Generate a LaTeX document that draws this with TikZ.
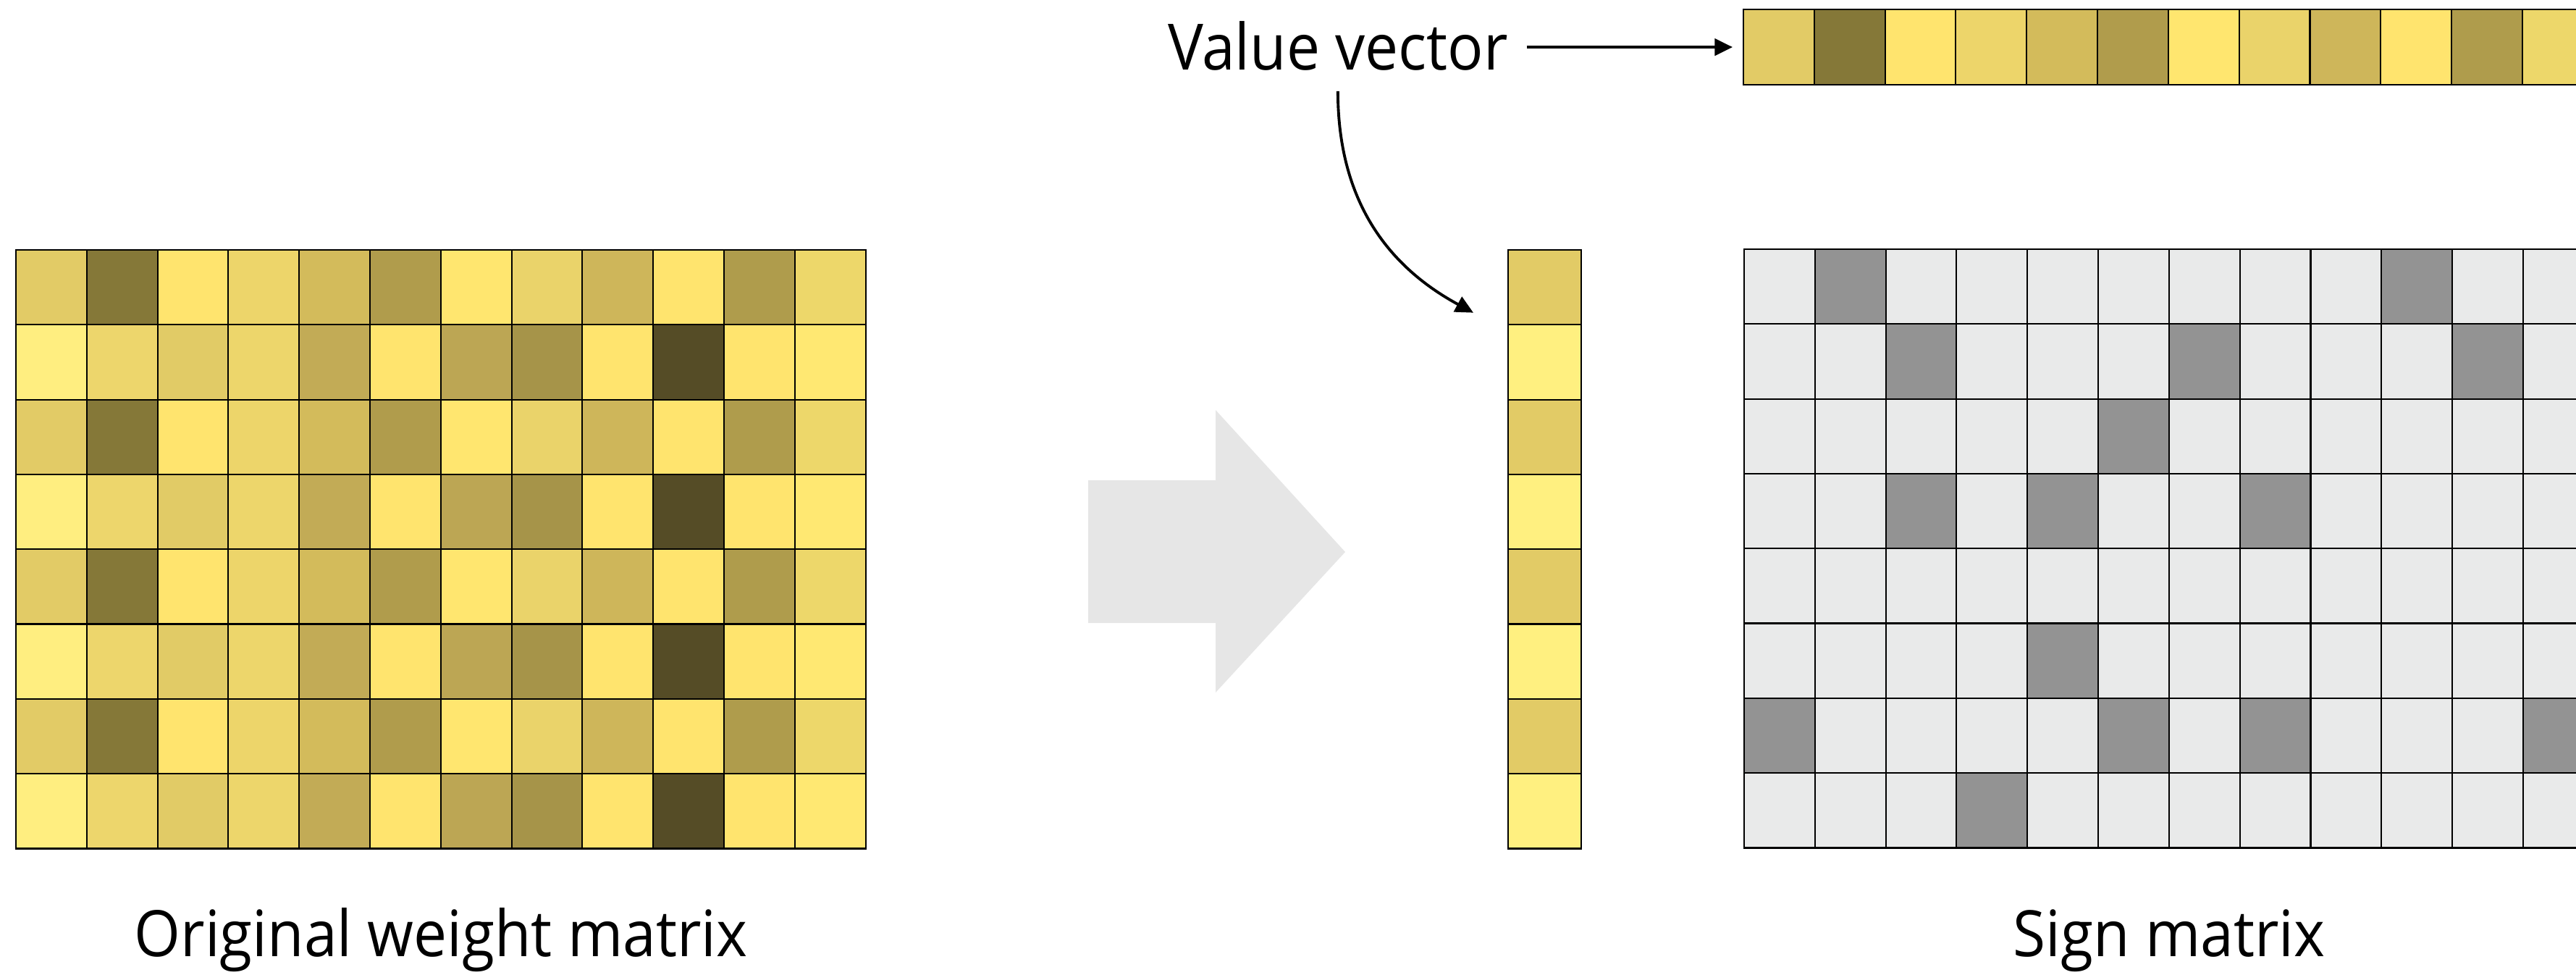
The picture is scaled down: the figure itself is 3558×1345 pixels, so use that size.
\documentclass[tikz,border=0pt]{standalone}
\usepackage{fontspec}
\setmainfont{Open Sans}[FakeStretch=0.93]
\usetikzlibrary{arrows.meta,calc}
% row type A (odd rows) and B (even rows) colours
\definecolor{a1}{HTML}{E2CB66}\definecolor{a2}{HTML}{857838}\definecolor{a3}{HTML}{FFE46E}
\definecolor{a4}{HTML}{EDD56A}\definecolor{a5}{HTML}{D3BB5B}\definecolor{a6}{HTML}{B09C4C}
\definecolor{a7}{HTML}{FFE66F}\definecolor{a8}{HTML}{EAD36A}\definecolor{a9}{HTML}{CEB65A}
\definecolor{a10}{HTML}{FFE46E}\definecolor{a11}{HTML}{AF9C4C}\definecolor{a12}{HTML}{EDD76A}
\definecolor{b1}{HTML}{FFEE80}\definecolor{b2}{HTML}{EDD66C}\definecolor{b3}{HTML}{E1CB66}
\definecolor{b4}{HTML}{EDD66B}\definecolor{b5}{HTML}{C2AB56}\definecolor{b6}{HTML}{FFE46E}
\definecolor{b7}{HTML}{BCA654}\definecolor{b8}{HTML}{A69449}\definecolor{b9}{HTML}{FFE46E}
\definecolor{b10}{HTML}{554C26}\definecolor{b11}{HTML}{FFE46E}\definecolor{b12}{HTML}{FFE872}
\definecolor{colA}{HTML}{E2CB66}\definecolor{colB}{HTML}{FFF080}
\definecolor{sglight}{HTML}{E9EAEA}\definecolor{sgdark}{HTML}{939393}
\definecolor{bigarrow}{HTML}{E6E6E6}
\def\darkpattern{{0,1,0,0,0,0,0,0,0,1,0,0,
0,0,1,0,0,0,1,0,0,0,1,0,
0,0,0,0,0,1,0,0,0,0,0,0,
0,0,1,0,1,0,0,1,0,0,0,0,
0,0,0,0,0,0,0,0,0,0,0,0,
0,0,0,0,1,0,0,0,0,0,0,0,
1,0,0,0,0,1,0,1,0,0,0,1,
0,0,0,1,0,0,0,0,0,0,0,0}}
\tikzset{
  cell/.style={draw=black, line width=0.6pt, minimum width=0.978cm, minimum height=1.033cm,
    inner sep=0pt, outer sep=0pt, anchor=north west},
  lbl/.style={inner sep=0pt, outer sep=0pt, font=\fontsize{25.1pt}{30pt}\selectfont},
  arr/.style={line width=1.1pt, -{Triangle[length=7pt,width=6.6pt]}}
}
\begin{document}
\begin{tikzpicture}[x=0.01cm,y=-0.01cm]
\useasboundingbox (0,0) rectangle (3558,1345);
\clip (0,0) rectangle (3558,1345);
% original weight matrix
\foreach \r in {1,...,8}{
  \foreach \c in {1,...,12}{
    \ifodd\r\relax\def\wc{a\c}\else\def\wc{b\c}\fi
    \node[cell, fill=\wc] (W-\r-\c) at ({22+(\c-1)*97.8},{345+(\r-1)*103.3}) {};
  }
}
% big grey arrow
\fill[bigarrow] (1503,663) -- (1679,663) -- (1679,566) -- (1858,762) -- (1679,956) -- (1679,860) -- (1503,860) -- cycle;
% value column
\foreach \r in {1,...,8}{
  \ifodd\r\relax\def\vc{colA}\else\def\vc{colB}\fi
  \node[cell, minimum width=1.01cm, fill=\vc] (V-\r) at (2083,{345+(\r-1)*103.3}) {};
}
% top value vector
\foreach \c in {1,...,12}{
  \node[cell, minimum height=1.04cm, fill=a\c] (T-\c) at ({2408+(\c-1)*97.8},13) {};
}
% sign matrix
\foreach \r in {1,...,8}{
  \foreach \c in {1,...,12}{
    \pgfmathtruncatemacro\isdark{\darkpattern[(\r-1)*12+\c-1]}
    \ifnum\isdark=1 \def\sc{sgdark}\else\def\sc{sglight}\fi
    \node[cell, fill=\sc] (S-\r-\c) at ({2409+(\c-1)*97.8},{344+(\r-1)*103.3}) {};
  }
}
% labels
\node[lbl, anchor=base west] (vv) at (1613,96) {Value vector};
\node[lbl, anchor=base] (lw) at (609,1320) {Original weight matrix};
\node[lbl, anchor=base] (ls) at (2996,1320) {Sign matrix};
% connectors
\draw[arr] ([xshift=0.26cm]vv.east |- T-1.west) -- ([xshift=-0.15cm]T-1.west);
\draw[arr] ($(vv.south)+(0,29)$) .. controls +(0,165) and +(-105,-57) .. ($(V-1.west)+(-48,35)$);
\end{tikzpicture}
\end{document}
